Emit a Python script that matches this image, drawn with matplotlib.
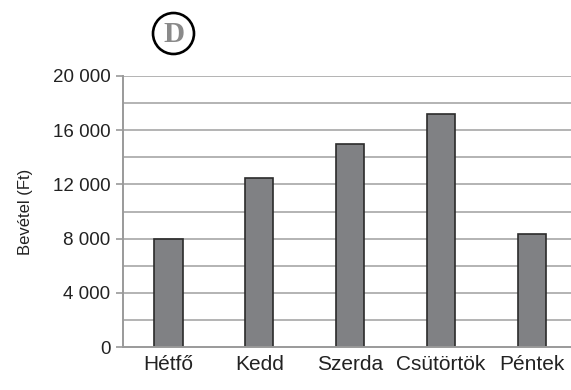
import matplotlib
matplotlib.use("Agg")
import matplotlib.pyplot as plt
from matplotlib.patches import Ellipse

days = ["Hétfő", "Kedd", "Szerda", "Csütörtök", "Péntek"]
revenue = [8000, 12500, 15000, 17200, 8350]
ytick_vals = [0, 4000, 8000, 12000, 16000, 20000]
ytick_labels = ["0", "4 000", "8 000", "12 000", "16 000", "20 000"]
grid_vals = [2000, 4000, 6000, 8000, 10000, 12000, 14000, 16000, 18000, 20000]

plt.rcParams['font.family'] = ["Liberation Sans", "DejaVu Sans"]

W, H = 571, 390
fig = plt.figure(figsize=(W / 100, H / 100), dpi=100)
ax = fig.add_axes([123 / W, 1 - 347 / H, (571 - 123) / W, (347 - 76) / H])

for g in grid_vals:
    ax.axhline(g, color="#b3b3b3", lw=1.4, zorder=1)

x = list(range(len(days)))
ax.bar(x, revenue, width=0.31, color="#808184", edgecolor="#2b2b2b", linewidth=1.2, zorder=3)

ax.set_xlim(-0.5, 4.43)
ax.set_ylim(0, 20000)
ax.set_yticks(ytick_vals)
ax.set_yticklabels(ytick_labels, fontsize=13.5, color="#222222")
ax.set_xticks(x)
ax.set_xticklabels(days, fontsize=15, color="#222222")
ax.tick_params(axis="x", length=0, pad=6)
ax.tick_params(axis="y", length=5, width=1.2, color="#9a9a9a", pad=4)

for s in ["top", "right"]:
    ax.spines[s].set_visible(False)
ax.spines["left"].set_color("#9a9a9a")
ax.spines["left"].set_linewidth(1.4)
ax.spines["bottom"].set_color("#9a9a9a")
ax.spines["bottom"].set_linewidth(1.4)
ax.spines["bottom"].set_zorder(4)

ax.set_ylabel("Bevétel (Ft)", fontsize=12, color="#222222", labelpad=14)

# circled D label
fig.patches.append(Ellipse((173.5 / W, 1 - 33.5 / H), 41 / W, 41 / H, transform=fig.transFigure,
                           facecolor="white", edgecolor="black", lw=1.9))
fig.text(173.5 / W, 1 - 34.5 / H, "D", fontsize=21, fontweight="bold", color="#8a8a8a",
         family=["Liberation Serif", "DejaVu Serif"], ha="center", va="center")

fig.savefig("out.png", dpi=100)
